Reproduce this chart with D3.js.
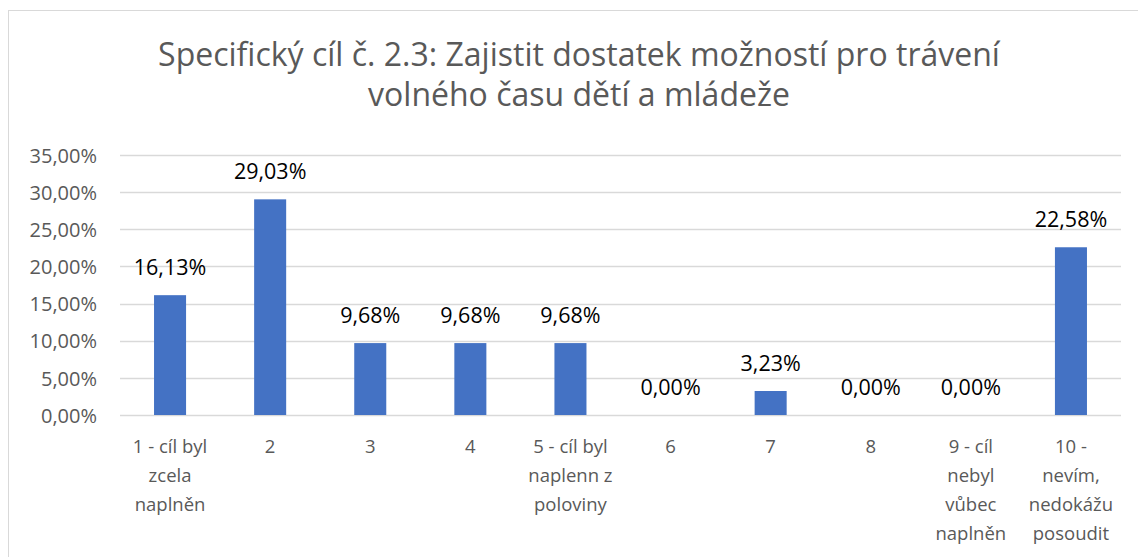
<!DOCTYPE html>
<html>
<head>
<meta charset="utf-8">
<script src="https://cdn.jsdelivr.net/npm/d3@7"></script>
<style>
  body { margin: 0; background: #fff; }
  svg text { font-family: "Open Sans", sans-serif; }
</style>
</head>
<body>
<div id="chart"></div>
<script>
// data
var categories = [
  "1 - cíl byl\nzcela\nnaplněn", "2", "3", "4", "5 - cíl byl\nnaplenn z\npoloviny",
  "6", "7", "8", "9 - cíl\nnebyl\nvůbec\nnaplněn", "10 -\nnevím,\nnedokážu\nposoudit"
]
var values = [16.13, 29.03, 9.68, 9.68, 9.68, 0, 3.23, 0, 0, 22.58]
var yTicks = [0, 5, 10, 15, 20, 25, 30, 35]
var titleLines = ["Specifický cíl č. 2.3: Zajistit dostatek možností pro trávení", "volného času dětí a mládeže"]

var W = 1138, H = 557
var plot = {left: 120, right: 1121, top: 155, bottom: 415}

var fmt = d => d.toFixed(2).replace(".", ",") + "%"

var svg = d3.select("#chart").append("svg")
  .attr("width", W).attr("height", H)

// chart frame (runs off the right and bottom edges)
svg.append("rect")
  .attr("x", 8.5).attr("y", 10.5)
  .attr("width", W + 20).attr("height", H + 20)
  .attr("fill", "#fff").attr("stroke", "#d9d9d9").attr("stroke-width", 1)

// title, sized so the first line spans about 856px like the original
var title = svg.append("g").selectAll("text").data(titleLines).join("text")
  .attr("x", 579).attr("y", (d, i) => 66 + i * 40)
  .attr("text-anchor", "middle")
  .attr("fill", "#595959")
  .style("font-size", "30px")
  .text(d => d)
var w0 = title.node().getComputedTextLength()
title.style("font-size", Math.min(32, 30 * 856 / w0) + "px")

var x = d3.scaleBand()
  .domain(d3.range(categories.length))
  .range([plot.left, plot.right])
  .paddingInner(0.68).paddingOuter(0.34)

var y = d3.scaleLinear().domain([0, 35]).range([plot.bottom, plot.top])

// gridlines
svg.append("g").selectAll("line").data(yTicks).join("line")
  .attr("x1", plot.left).attr("x2", plot.right)
  .attr("y1", d => Math.round(y(d)) + 0.5).attr("y2", d => Math.round(y(d)) + 0.5)
  .attr("stroke", "#d9d9d9").attr("stroke-width", 1.3)

// y axis labels
var yAxis = d3.axisLeft(y).tickValues(yTicks).tickSize(0).tickPadding(0).tickFormat(fmt)
var gy = svg.append("g").attr("transform", "translate(97,0)").call(yAxis)
gy.select(".domain").remove()
gy.selectAll("text").attr("fill", "#595959").style("font-size", "20px")
  .attr("dy", "0.36em")

// bars
svg.append("g").selectAll("rect").data(values).join("rect")
  .attr("x", (d, i) => x(i))
  .attr("width", x.bandwidth())
  .attr("y", d => y(d))
  .attr("height", d => y(0) - y(d))
  .attr("fill", "#4472c4")

// value labels
svg.append("g").selectAll("text").data(values).join("text")
  .attr("x", (d, i) => x(i) + x.bandwidth() / 2)
  .attr("y", d => y(d) - 20)
  .attr("text-anchor", "middle")
  .attr("fill", "#000")
  .style("font-size", "21.5px")
  .text(fmt)

// category labels
var gx = svg.append("g").selectAll("text").data(categories).join("text")
  .attr("text-anchor", "middle")
  .attr("fill", "#595959")
  .style("font-size", "18.5px")
gx.each(function(d, i) {
  d3.select(this).selectAll("tspan").data(d.split("\n")).join("tspan")
    .attr("x", x(i) + x.bandwidth() / 2)
    .attr("y", (t, j) => 453 + j * 29)
    .text(t => t)
})
</script>
</body>
</html>
